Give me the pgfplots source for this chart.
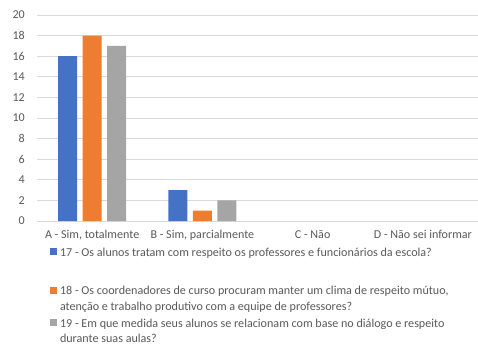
\documentclass[border=0pt]{standalone}
\usepackage{fontspec}
\setmainfont{Carlito}
\usepackage{pgfplots}
\pgfplotsset{compat=1.18}
\definecolor{sblue}{HTML}{4472C4}
\definecolor{sorange}{HTML}{ED7D31}
\definecolor{sgray}{HTML}{A5A5A5}
\definecolor{txt}{HTML}{595959}
\definecolor{gridc}{HTML}{D9D9D9}
\newcommand\ls{\rule[-4bp]{0pt}{14.5bp}}
\begin{document}
\begin{tikzpicture}
\path[use as bounding box] (-37bp,-126bp) rectangle (441bp,221bp);
\begin{axis}[
  at={(0,0)}, anchor=south west,
  scale only axis, width=441bp, height=206bp,
  xmin=-0.5, xmax=3.5, ymin=0, ymax=20,
  ytick={0,2,...,20},
  xtick={0,1,2,3},
  xticklabels={{A - Sim, totalmente}, {B - Sim, parcialmente}, {C - Não}, {D - Não sei informar}},
  ymajorgrids, grid style={gridc, line width=0.8bp},
  axis x line*=bottom, axis y line*=left,
  axis line style={draw=none},
  major tick length=0pt,
  tick style={draw=none},
  /pgf/number format/assume math mode=true,
  ticklabel style={font=\fontsize{12.1}{14.5}\selectfont, text=txt},
  yticklabel style={inner sep=0pt, xshift=-12bp},
  xticklabel style={inner sep=0pt, yshift=-9bp},
  ybar, bar width=19bp,
  legend style={at={([xshift=13bp,yshift=-24.75bp]axis description cs:0,0)}, anchor=north west,
    draw=none, fill=none, inner sep=0pt, outer sep=0pt,
    font=\fontsize{12.15}{14.5}\selectfont, text=txt,
    nodes={inner sep=0pt}, column sep=3bp, row sep=5bp,
    cells={align=left}},
  legend cell align=left,
]
\addplot[fill=sblue, draw=none, forget plot, bar shift=-24.5bp] coordinates {(0,16) (1,3)};
\addplot[fill=sorange, draw=none, forget plot, bar shift=0bp] coordinates {(0,18) (1,1)};
\addplot[fill=sgray, draw=none, forget plot, bar shift=24.5bp] coordinates {(0,17) (1,2)};
\addlegendimage{legend image code/.code={\fill[sblue, draw=none] (0bp,-3bp) rectangle (7bp,4bp);}}
\addlegendentry{\ls 17 - Os alunos tratam com respeito os professores e funcionários da escola?}
\addlegendimage{empty legend}
\addlegendentry{\rule{0pt}{15bp}}
\addlegendimage{legend image code/.code={\path[draw=none, fill=none] (0bp,-11.25bp) rectangle (7bp,11.25bp); \fill[sorange, draw=none] (0bp,4.25bp) rectangle (7bp,11.25bp);}}
\addlegendentry{\ls 18 - Os coordenadores de curso procuram manter um clima de respeito mútuo,\\\ls atenção e trabalho produtivo com a equipe de professores?}
\addlegendimage{legend image code/.code={\path[draw=none, fill=none] (0bp,-11.25bp) rectangle (7bp,11.25bp); \fill[sgray, draw=none] (0bp,4.25bp) rectangle (7bp,11.25bp);}}
\addlegendentry{\ls 19 - Em que medida seus alunos se relacionam com base no diálogo e respeito\\\ls durante suas aulas?}
\draw[gridc, line width=0.8bp] (axis description cs:0,0) -- ++(0,-19bp);
\end{axis}
\end{tikzpicture}
\end{document}
